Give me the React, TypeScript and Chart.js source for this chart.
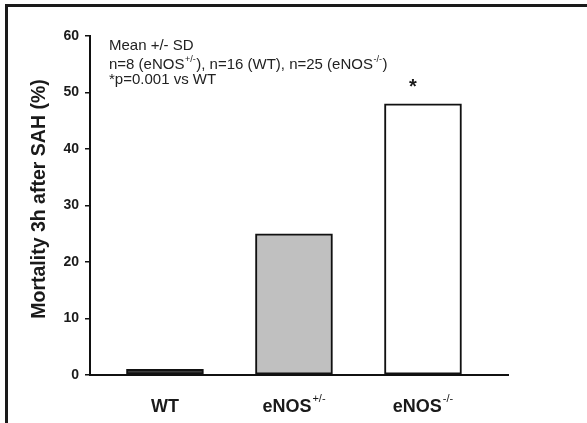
import React, { useEffect, useRef } from "react";
import { Chart, registerables } from "chart.js";

Chart.register(...registerables);

const categories = ["WT", "eNOS", "eNOS"];
const categorySups = ["", "+/-", "-/-"];
const mortality = [1, 25, 48];
const barFills = ["#3c3c3c", "#c0c0c0", "#ffffff"];
const yTicks = [0, 10, 20, 30, 40, 50, 60];
const yTitle = "Mortality 3h after SAH (%)";
const significance = ["", "", "*"];
const noteLines: { text: string; sup?: string }[][] = [
  [{ text: "Mean +/- SD" }],
  [
    { text: "n=8 (eNOS" },
    { text: "", sup: "+/-" },
    { text: "), n=16 (WT), n=25 (eNOS" },
    { text: "", sup: "-/-" },
    { text: ")" },
  ],
  [{ text: "*p=0.001 vs WT" }],
];

const FONT = "'Liberation Sans', Arial, sans-serif";

export default function App() {
  const ref = useRef<HTMLCanvasElement>(null);
  useEffect(() => {
    document.body.style.margin = "0";
    const canvas = ref.current!;
    const overlay = {
      id: "overlay",
      afterDraw(chart: any) {
        const ctx = chart.ctx as CanvasRenderingContext2D;
        ctx.save();
        // frame
        ctx.fillStyle = "#1a1a1a";
        ctx.fillRect(5, 4, 587, 3);
        ctx.fillRect(5, 4, 3, 423);
        // y title
        ctx.save();
        ctx.translate(40, 199);
        ctx.rotate(-Math.PI / 2);
        ctx.font = `bold 19.5px ${FONT}`;
        ctx.fillStyle = "#1a1a1a";
        ctx.textAlign = "center";
        ctx.textBaseline = "middle";
        ctx.fillText(yTitle, 0, 0);
        ctx.restore();
        // x labels
        const meta = chart.getDatasetMeta(0);
        meta.data.forEach((bar: any, i: number) => {
          const main = categories[i];
          const sup = categorySups[i];
          ctx.font = `bold 18px ${FONT}`;
          const w1 = ctx.measureText(main).width;
          ctx.font = `11px ${FONT}`;
          const w2 = sup ? ctx.measureText(sup).width + 1 : 0;
          const x0 = bar.x - (w1 + w2) / 2;
          ctx.fillStyle = "#1a1a1a";
          ctx.textAlign = "left";
          ctx.textBaseline = "alphabetic";
          ctx.font = `bold 18px ${FONT}`;
          ctx.fillText(main, x0, 412);
          if (sup) {
            ctx.font = `11px ${FONT}`;
            ctx.fillText(sup, x0 + w1 + 1, 402);
          }
          if (significance[i]) {
            ctx.font = `bold 20px ${FONT}`;
            ctx.textAlign = "center";
            ctx.fillText(significance[i], bar.x - 10, bar.y - 11);
          }
        });
        // notes
        const baselines = [50, 69, 84];
        noteLines.forEach((parts, li) => {
          let x = 109;
          parts.forEach((p) => {
            ctx.font = `15px ${FONT}`;
            ctx.fillStyle = "#222";
            ctx.textAlign = "left";
            if (p.text) {
              ctx.fillText(p.text, x, baselines[li]);
              x += ctx.measureText(p.text).width;
            }
            if (p.sup) {
              ctx.font = `9px ${FONT}`;
              ctx.fillText(p.sup, x + 0.5, baselines[li] - 7);
              x += ctx.measureText(p.sup).width + 1;
            }
          });
        });
        ctx.restore();
      },
    };
    const chart = new Chart(canvas, {
      type: "bar",
      data: {
        datasets: [
          {
            data: mortality.map((v, i) => ({ x: i, y: v })),
            backgroundColor: barFills,
            borderColor: "#111",
            borderWidth: 2,
            borderSkipped: false,
            barThickness: 77,
          },
        ],
      },
      options: {
        animation: false,
        responsive: false,
        layout: { padding: { left: 0, top: 36, right: 79, bottom: 48 } },
        plugins: { legend: { display: false }, tooltip: { enabled: false } },
        scales: {
          x: {
            type: "linear",
            offset: false,
            min: -0.581,
            max: 2.659,
            grid: { display: false, drawTicks: false, offset: false },
            ticks: { display: false },
            border: { display: true, color: "#111", width: 2 },
          },
          y: {
            min: 0,
            max: 60,
            afterBuildTicks: (s: any) => {
              s.ticks = yTicks.map((v) => ({ value: v }));
            },
            afterFit: (s: any) => {
              s.width = 90;
            },
            grid: {
              drawOnChartArea: false,
              tickLength: 5,
              color: "#111",
              lineWidth: 1.5,
            },
            border: { display: true, color: "#111", width: 2 },
            ticks: {
              padding: 6,
              color: "#1a1a1a",
              font: { family: FONT, size: 14, weight: "bold" },
            },
          },
        },
      },
      plugins: [overlay],
    } as any);
    return () => chart.destroy();
  }, []);
  return <canvas ref={ref} width={587} height={423} style={{ display: "block" }} />;
}
